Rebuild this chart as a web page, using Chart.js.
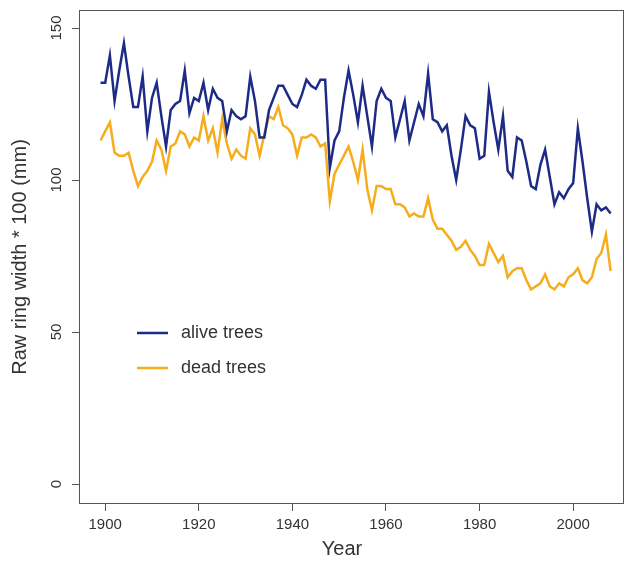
<!DOCTYPE html>
<html>
<head>
<meta charset="utf-8">
<script src="https://cdn.jsdelivr.net/npm/chart.js@4/dist/chart.umd.min.js"></script>
<style>
  html, body { margin: 0; padding: 0; background: #fff; overflow: hidden; }
  canvas { display: block; }
</style>
</head>
<body>
<canvas id="ringChart" width="625" height="562"></canvas>
<script>
// data, one value per year starting 1899
const firstYear = 1899;

const aliveTrees = [
    132, 132, 141, 126, 136, 145, 134, 124, 124, 134,
    116, 127, 132, 121, 111, 123, 125, 126, 136, 122,
    127, 126, 132, 123, 130, 127, 126, 116, 123, 121,
    120, 121, 134, 126, 114, 114, 123, 127, 131, 131,
    128, 125, 124, 128, 133, 131, 130, 133, 133, 104,
    113, 116, 127, 136, 128, 119, 131, 121, 111, 126,
    130, 127, 126, 114, 120, 126, 113, 119, 125, 121,
    135, 120, 119, 116, 118, 108, 100, 110, 121, 118,
    117, 107, 108, 129, 119, 110, 121, 103, 101, 114,
    113, 106, 98, 97, 105, 110, 101, 92, 96, 94,
    97, 99, 117, 106, 94, 83, 92, 90, 91, 89
];

const deadTrees = [
    113, 116, 119, 109, 108, 108, 109, 103, 98, 101,
    103, 106, 113, 110, 103, 111, 112, 116, 115, 111,
    114, 113, 121, 113, 117, 109, 120, 112, 107, 110,
    108, 107, 117, 115, 108, 115, 121, 120, 124, 118,
    117, 115, 108, 114, 114, 115, 114, 111, 112, 93,
    102, 105, 108, 111, 106, 100, 110, 97, 90, 98,
    98, 97, 97, 92, 92, 91, 88, 89, 88, 88,
    94, 87, 84, 84, 82, 80, 77, 78, 80, 77,
    75, 72, 72, 79, 76, 73, 75, 68, 70, 71,
    71, 67, 64, 65, 66, 69, 65, 64, 66, 65,
    68, 69, 71, 67, 66, 68, 74, 76, 82, 70
];

const xTicks = [1900, 1920, 1940, 1960, 1980, 2000];
const yTicks = [0, 50, 100, 150];

const seriesNames = ['alive trees', 'dead trees'];

const fontFamily = '"Liberation Sans", Arial, Helvetica, sans-serif';
const axisColor = '#555';
const textColor = '#333';

const years = aliveTrees.map((_, i) => firstYear + i);
const toPoints = values => values.map((v, i) => ({ x: years[i], y: v }));

// box, y ticks with rotated labels, x title and legend, like base R graphics
const rStylePlugin = {
    id: 'rStyle',
    afterDraw(chart) {
        const { ctx, chartArea: a, scales: { y } } = chart;
        ctx.save();

        ctx.strokeStyle = axisColor;
        ctx.lineWidth = 1;
        ctx.strokeRect(a.left + 0.5, a.top + 0.5, a.right - a.left - 1, a.bottom - a.top - 1);

        ctx.beginPath();
        yTicks.forEach(v => {
            const py = Math.round(y.getPixelForValue(v)) + 0.5;
            ctx.moveTo(a.left - 7, py);
            ctx.lineTo(a.left, py);
        });
        ctx.stroke();

        ctx.fillStyle = textColor;
        ctx.font = `15px ${fontFamily}`;
        ctx.textAlign = 'center';
        ctx.textBaseline = 'middle';
        yTicks.forEach(v => {
            ctx.save();
            ctx.translate(a.left - 22, y.getPixelForValue(v));
            ctx.rotate(-Math.PI / 2);
            ctx.fillText(String(v), 0, 0);
            ctx.restore();
        });

        ctx.font = `20px ${fontFamily}`;
        ctx.fillText('Year', 342, 549);

        // legend inside the plot
        ctx.font = `18px ${fontFamily}`;
        ctx.textAlign = 'left';
        chart.data.datasets.forEach((ds, i) => {
            const ly = 333 + i * 35;
            ctx.strokeStyle = ds.borderColor;
            ctx.lineWidth = ds.borderWidth;
            ctx.beginPath();
            ctx.moveTo(137, ly);
            ctx.lineTo(168, ly);
            ctx.stroke();
            ctx.fillStyle = textColor;
            ctx.fillText(ds.label, 181, ly);
        });

        ctx.restore();
    }
};

const ctx = document.getElementById('ringChart').getContext('2d');
new Chart(ctx, {
    type: 'line',
    data: {
        datasets: [
            {
                label: seriesNames[0],
                data: toPoints(aliveTrees),
                borderColor: '#1d2b86',
                borderWidth: 2.5,
                pointRadius: 0,
                tension: 0
            },
            {
                label: seriesNames[1],
                data: toPoints(deadTrees),
                borderColor: '#f6ad1c',
                borderWidth: 2.5,
                pointRadius: 0,
                tension: 0
            }
        ]
    },
    options: {
        responsive: false,
        animation: false,
        devicePixelRatio: 1,
        layout: { padding: { top: 10, right: 1, left: 0, bottom: 0 } },
        plugins: {
            legend: { display: false },
            tooltip: { enabled: false }
        },
        scales: {
            x: {
                type: 'linear',
                min: 1894.4,
                max: 2010.86,
                afterBuildTicks: s => { s.ticks = xTicks.map(v => ({ value: v })); },
                afterFit: s => { s.height = 58; },
                border: { display: false },
                grid: { drawOnChartArea: false, tickLength: 7, color: axisColor },
                ticks: {
                    padding: 5,
                    color: textColor,
                    font: { family: fontFamily, size: 15 },
                    maxRotation: 0,
                    callback: v => String(v)
                }
            },
            y: {
                min: -6.58,
                max: 155.92,
                afterBuildTicks: s => { s.ticks = yTicks.map(v => ({ value: v })); },
                afterFit: s => { s.width = 79; },
                border: { display: false },
                grid: { display: false },
                ticks: { display: false },
                title: {
                    display: true,
                    text: 'Raw ring width * 100 (mm)',
                    color: textColor,
                    font: { family: fontFamily, size: 20 },
                    padding: { top: 8, bottom: 0 }
                }
            }
        }
    },
    plugins: [rStylePlugin]
});
</script>
</body>
</html>
